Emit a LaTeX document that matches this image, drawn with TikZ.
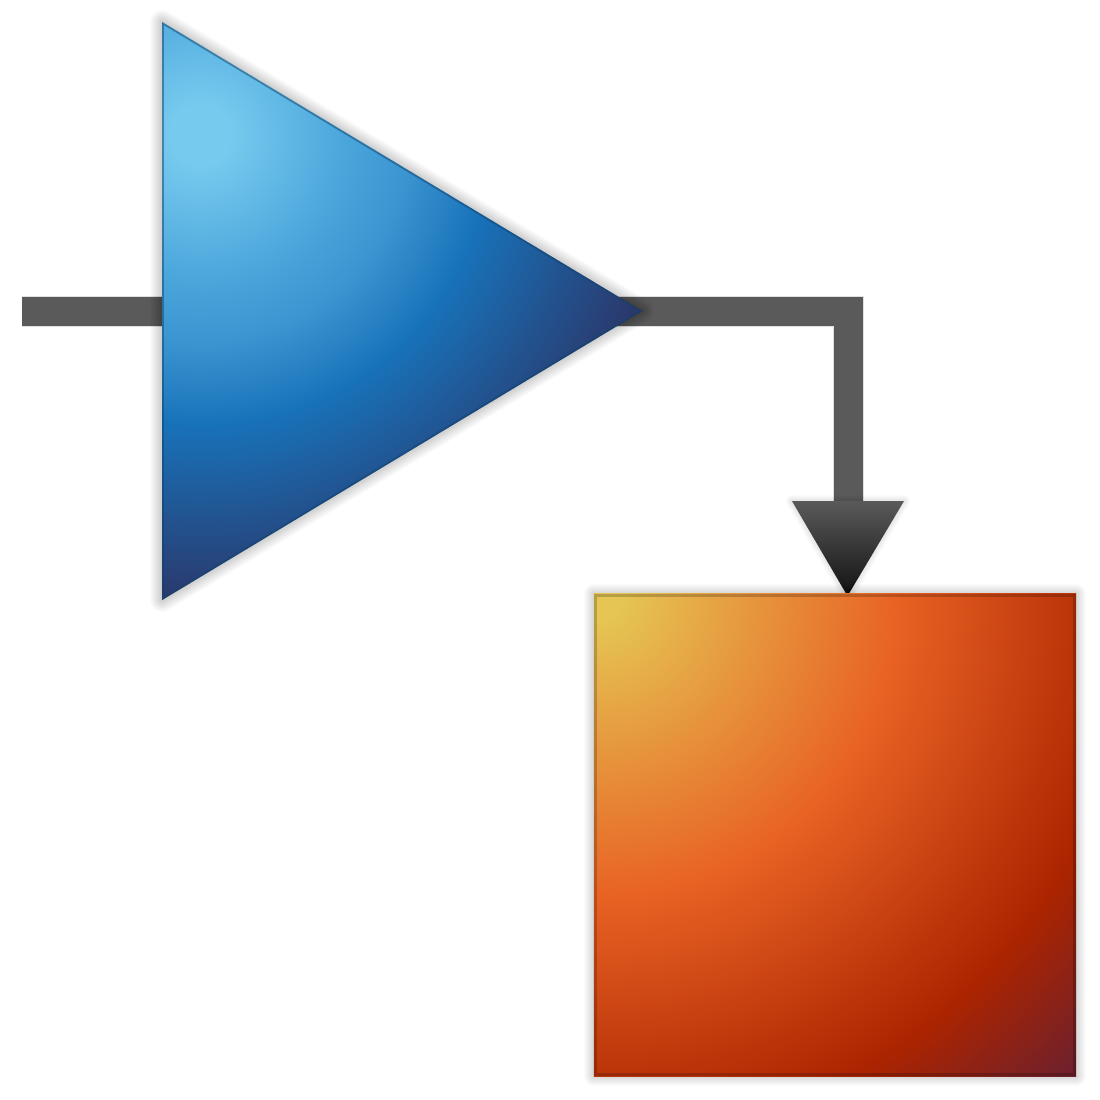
\documentclass[tikz,border=0pt]{standalone}
\definecolor{blA}{HTML}{76CAEE}
\definecolor{blAB}{HTML}{4CA7DC}
\definecolor{blAC}{HTML}{3A94D0}
\definecolor{blB}{HTML}{1872B9}
\definecolor{blC}{HTML}{2C3466}
\definecolor{orA}{HTML}{E5C654}
\definecolor{orB}{HTML}{E86224}
\definecolor{orC}{HTML}{AB2400}
\definecolor{orD}{HTML}{6A2030}
\definecolor{wire}{HTML}{5A5A5A}
\definecolor{tipdark}{HTML}{111111}
\pgfdeclareradialshading{ampshade}{\pgfpoint{0bp}{0bp}}{color(0bp)=(blA); color(1.56bp)=(blA); color(7.3bp)=(blAB); color(10.9bp)=(blAC); color(15.1bp)=(blB); color(25bp)=(blC); color(50bp)=(blC)}
\pgfdeclareradialshading{boxshade}{\pgfpoint{0bp}{0bp}}{color(0bp)=(orA); color(0.74bp)=(orA); color(11bp)=(orB); color(19.85bp)=(orC); color(25bp)=(orD); color(50bp)=(orD)}
\newcommand\blurshadow[4]{% #1 shift, #2 layers, #3 opacity, #4 closed path
  \foreach \w in {1,...,#2}{%
    \pgfmathsetmacro\lw{2*\w}%
    \path[fill=black, draw=black, opacity=#3, line width=\lw pt, line join=round, shift={#1}] #4;}}
\newcommand\lineshadow[4]{% #1 shift, #2 layers, #3 opacity, #4 open path
  \foreach \w in {1,...,#2}{%
    \pgfmathsetmacro\lw{29+2*\w}%
    \path[draw=black, opacity=#3, line width=\lw pt, line join=miter, shift={#1}] #4;}}
\tikzset{
  wireline/.style={draw=wire, line width=29pt, line cap=butt, line join=miter},
  ampborder/.style={draw=blB!60!black, draw opacity=0.5, line width=3.5pt, line join=miter},
  boxborder/.style={draw=black, draw opacity=0.2, line width=3pt},
}
\begin{document}
\begin{tikzpicture}[x=1pt, y=-1pt]
\useasboundingbox (0,0) rectangle (1100,1100);
\fill[white] (0,0) rectangle (1100,1100);
% named points
\coordinate (inL) at (22,311);
\coordinate (ampA) at (162,22);
\coordinate (ampB) at (162,600);
\coordinate (ampTip) at (642,311);
\coordinate (bend) at (848.5,311);
\coordinate (arrBase) at (848.5,501);
\coordinate (arrL) at (792,501);
\coordinate (arrR) at (904,501);
\coordinate (arrTip) at (847.5,596);
\node[minimum size=482pt, inner sep=0pt, draw=none] (sq) at (835,835) {};
% wire shadow and wire
\lineshadow{(0,1.5)}{1}{0.12}{(inL) -- (bend) -- (arrBase)}
\draw[wireline] (inL) -- (bend) -- (arrBase);
% arrowhead
\blurshadow{(2,4)}{6}{0.015}{(arrL) -- (arrR) -- (arrTip) -- cycle}
\shade[top color=wire, bottom color=tipdark] (arrL) -- (arrR) -- (arrTip) -- cycle;
% square
\blurshadow{(4,7)}{10}{0.016}{(sq.north west) rectangle (sq.south east)}
\begin{scope}
  \clip (sq.north west) rectangle (sq.south east);
  \path[shading=boxshade] (598,598) circle (680pt);
\end{scope}
\draw[boxborder] ([shift={(1.5,1.5)}]sq.north west) rectangle ([shift={(-1.5,-1.5)}]sq.south east);
% amplifier triangle
\blurshadow{(3,5)}{12}{0.014}{(ampA) -- (ampTip) -- (ampB) -- cycle}
\begin{scope}
  \clip (ampA) -- (ampTip) -- (ampB) -- cycle;
  \path[shading=ampshade] (200,135) circle (480pt);
\end{scope}
\begin{scope}
  \clip (ampA) -- (ampTip) -- (ampB) -- cycle;
  \draw[ampborder] (ampA) -- (ampTip) -- (ampB) -- cycle;
\end{scope}
\end{tikzpicture}
\end{document}
